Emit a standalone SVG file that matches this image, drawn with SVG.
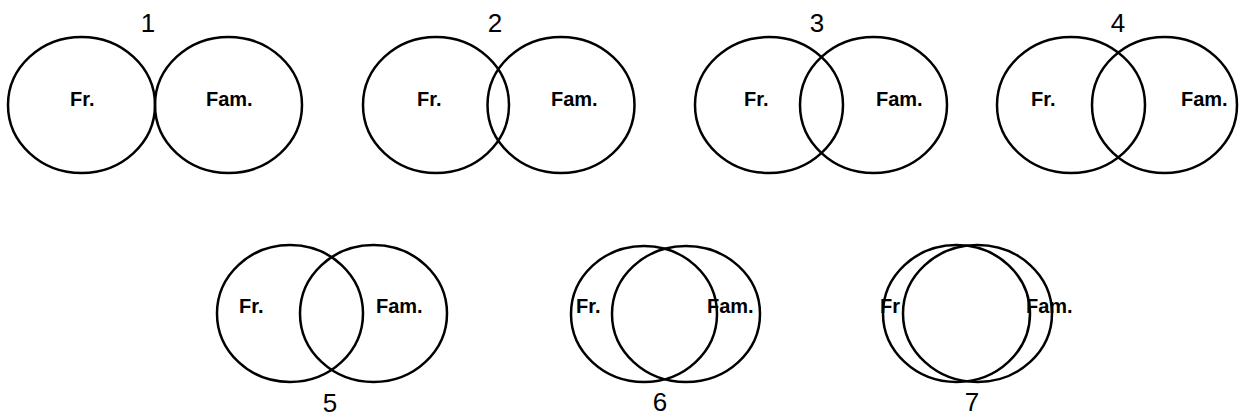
<svg xmlns="http://www.w3.org/2000/svg" width="1242" height="419" viewBox="0 0 1242 419">
<style>
.c{fill:none;stroke:#000;stroke-width:2.5}
.l{font-family:"Liberation Sans",Arial,sans-serif;font-size:20px;font-weight:bold;fill:#000}
.n{font-family:"Liberation Sans",Arial,sans-serif;font-size:26px;fill:#000;text-anchor:middle}
</style>
<rect width="1242" height="419" fill="#fff"/>
<g id="d1">
<text class="n" x="148" y="32">1</text>
<text class="l" x="70" y="106">Fr.</text>
<text class="l" x="206" y="106">Fam.</text>
<ellipse class="c" cx="81.5" cy="105" rx="73.5" ry="68"/>
<ellipse class="c" cx="228.5" cy="105" rx="73.5" ry="68"/>
</g>
<g id="d2">
<text class="n" x="495" y="32">2</text>
<text class="l" x="417" y="106">Fr.</text>
<text class="l" x="551" y="106">Fam.</text>
<ellipse class="c" cx="436" cy="105" rx="73" ry="68"/>
<ellipse class="c" cx="561" cy="105" rx="73.5" ry="68"/>
</g>
<g id="d3">
<text class="n" x="817" y="32">3</text>
<text class="l" x="744" y="106">Fr.</text>
<text class="l" x="876" y="106">Fam.</text>
<ellipse class="c" cx="769" cy="105" rx="74" ry="68"/>
<ellipse class="c" cx="873.5" cy="105" rx="73.5" ry="68"/>
</g>
<g id="d4">
<text class="n" x="1118" y="32">4</text>
<text class="l" x="1031" y="106">Fr.</text>
<text class="l" x="1181" y="106">Fam.</text>
<ellipse class="c" cx="1071" cy="105" rx="74" ry="68"/>
<ellipse class="c" cx="1164.5" cy="105" rx="72.5" ry="68"/>
</g>
<g id="d5">
<text class="n" x="330" y="412">5</text>
<text class="l" x="239" y="313">Fr.</text>
<text class="l" x="376" y="313">Fam.</text>
<ellipse class="c" cx="290" cy="313.5" rx="73" ry="68.5"/>
<ellipse class="c" cx="373.5" cy="313.5" rx="73.5" ry="68.5"/>
</g>
<g id="d6">
<text class="n" x="660" y="411">6</text>
<text class="l" x="576" y="313">Fr.</text>
<text class="l" x="707" y="313">Fam.</text>
<ellipse class="c" cx="644" cy="314" rx="73" ry="68"/>
<ellipse class="c" cx="686" cy="314" rx="74" ry="68"/>
</g>
<g id="d7">
<text class="n" x="972" y="411">7</text>
<text class="l" x="880" y="313">Fr</text>
<text class="l" x="1026" y="313">Fam.</text>
<ellipse class="c" cx="956.5" cy="313.5" rx="73.5" ry="68.5"/>
<ellipse class="c" cx="977.5" cy="313.5" rx="74.5" ry="68.5"/>
</g>
<g id="connectors"></g>
</svg>
